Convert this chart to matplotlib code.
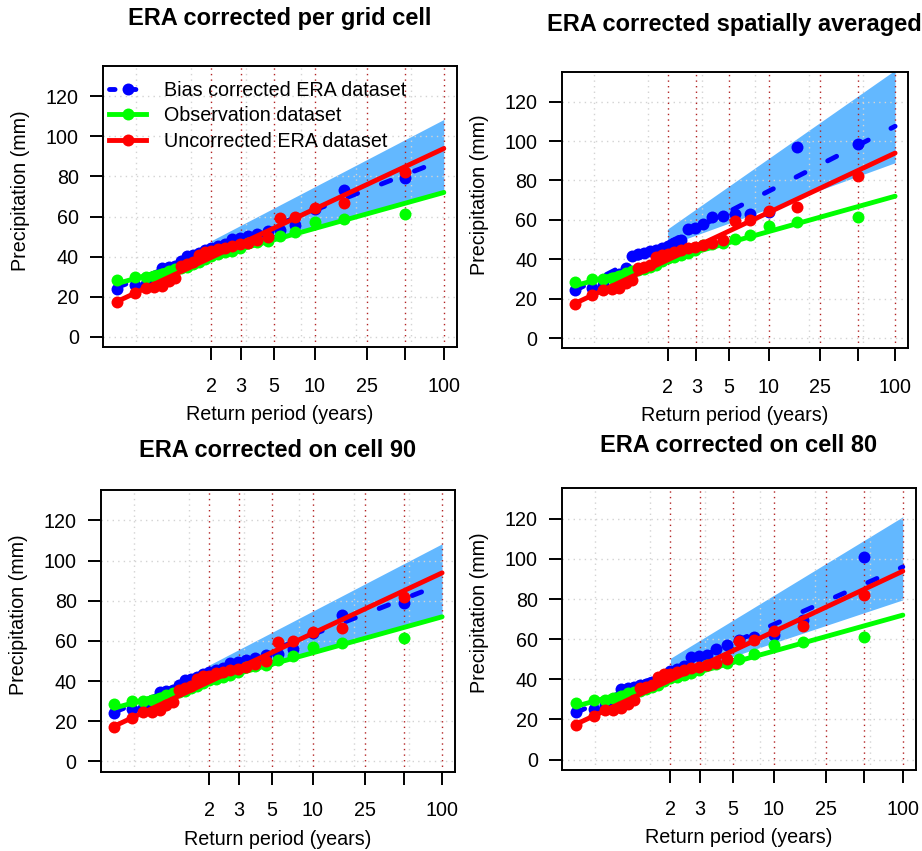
import numpy as np
import matplotlib
matplotlib.use('Agg')
import matplotlib.pyplot as plt
from matplotlib.lines import Line2D

plt.rcParams['font.family'] = ['Liberation Sans', 'DejaVu Sans']
plt.rcParams['lines.scale_dashes'] = False

# sorted annual maxima (mm), 25 years
obs = [28.3, 29.8, 29.8, 30.5, 31.5, 33.0, 33.8, 34.4, 35.0, 36.3, 37.3, 39.0, 40.5,
       41.2, 42.2, 43.0, 44.5, 47.0, 47.5, 48.0, 50.3, 52.5, 57.1, 58.7, 61.2]
era_raw = [17.3, 21.8, 24.5, 24.8, 25.5, 27.8, 29.5, 35.5, 36.3, 37.3, 41.0, 42.4, 42.6,
           43.8, 44.5, 45.5, 46.2, 47.0, 48.3, 50.0, 59.2, 59.8, 64.3, 66.5, 82.1]
bias_cell = [24.0, 26.0, 26.5, 29.0, 34.5, 35.0, 35.5, 38.0, 40.5, 41.0, 42.0, 43.5, 44.5,
             45.5, 46.5, 49.0, 49.5, 50.5, 51.5, 53.0, 53.5, 56.0, 64.0, 73.0, 79.0]
bias_avg = [24.5, 25.5, 27.0, 31.0, 32.5, 35.5, 41.5, 42.5, 43.0, 44.0, 44.5, 45.5, 46.5,
            48.0, 50.0, 55.5, 56.0, 58.0, 61.5, 62.0, 63.0, 63.0, 64.0, 97.0, 98.5]
bias_c80 = [23.5, 25.0, 27.0, 28.0, 35.0, 35.8, 36.3, 37.0, 37.5, 38.5, 39.0, 42.0, 44.0,
            45.0, 46.5, 51.0, 51.5, 52.0, 55.0, 57.0, 59.5, 61.0, 62.0, 69.5, 101.0]

# fitted Gumbel lines, value at first plotting position and at 100 years
obs_fit = [26.5, 72.0]
era_fit = [17.5, 93.9]
bias_cell_fit = [24.5, 88.4]
bias_avg_fit = [24.0, 107.5]
bias_c80_fit = [23.3, 96.0]

# confidence band of the corrected series, at 2 and 100 years
band_T = [2, 100]
band_cell_lo, band_cell_hi = [40.5, 72.6], [48.0, 108.4]
band_avg_lo, band_avg_hi = [47.0, 89.0], [55.4, 136.0]
band_c80_lo, band_c80_hi = [41.0, 79.6], [50.5, 121.0]

x_ticks = [2, 3, 5, 10, 25, 50, 100]
x_labels = ['2', '3', '5', '10', '25', '', '100']
y_ticks = [0, 20, 40, 60, 80, 100, 120]
grid_rv = [-1, 0, 1, 2, 3, 4]

labels = ['Bias corrected ERA dataset', 'Observation dataset', 'Uncorrected ERA dataset']

n = len(obs)
rank = np.arange(1, n + 1)
ret_period = 1.0 / (1.0 - (rank - 0.5) / n)  # Hazen plotting position
line_T = [ret_period[0], 100]


def gumbel_fwd(t):
    t = np.asarray(t, dtype=float)
    with np.errstate(all='ignore'):
        return -np.log(-np.log(1.0 - 1.0 / t))


def gumbel_inv(y):
    y = np.asarray(y, dtype=float)
    with np.errstate(all='ignore'):
        return 1.0 / (1.0 - np.exp(-np.exp(-y)))


W, H = 922, 851
BAND = '#63B8FF'
DASH = (7.2, 18.4)
LW = 3.5
MS = 8.6
FS = 14.2


def draw_panel(box, title, title_y, bias, bias_fit, lo, hi, legend=False):
    x0, y0, x1, y1 = box
    wpx, hpx = x1 - x0, y1 - y0
    ax = fig.add_axes([x0 / W, 1 - y1 / H, wpx / W, hpx / H])
    ax.set_xscale('function', functions=(gumbel_fwd, gumbel_inv))
    ax.set_xlim(gumbel_inv(-1.605), gumbel_inv(4.835))
    ax.set_ylim(-5.2, 135.2)

    ax.fill_between(band_T, lo, hi, color=BAND, lw=0, zorder=1)
    for yv in y_ticks:
        ax.axhline(yv, color='#D3D3D3', lw=1, ls=(0, (1, 3)), zorder=2)
    for g in grid_rv:
        ax.axvline(gumbel_inv(g), color='#D3D3D3', lw=1, ls=(0, (1, 3)), zorder=2)
    for t in x_ticks:
        ax.axvline(t, color='#B22222', lw=1, ls=(0, (1, 3)), zorder=2)

    ax.plot(ret_period, bias, 'o', color='blue', ms=MS, mew=0, zorder=3)
    ax.plot(line_T, bias_fit, color='blue', lw=LW, dashes=DASH,
            dash_capstyle='round', zorder=3)
    ax.plot(ret_period, obs, 'o', color='#00FF00', ms=MS, mew=0, zorder=4)
    ax.plot(line_T, obs_fit, color='#00FF00', lw=LW, solid_capstyle='round', zorder=4)
    ax.plot(ret_period, era_raw, 'o', color='red', ms=MS, mew=0, zorder=5)
    ax.plot(line_T, era_fit, color='red', lw=LW, solid_capstyle='round', zorder=5)

    ax.set_xticks(x_ticks)
    ax.set_xticklabels(x_labels)
    ax.xaxis.set_minor_locator(matplotlib.ticker.NullLocator())
    ax.set_yticks(y_ticks)
    ax.tick_params(axis='both', direction='out', length=9.1, width=1.4, labelsize=FS)
    ax.tick_params(axis='x', pad=12.2)
    ax.tick_params(axis='y', pad=8.4)
    for s in ax.spines.values():
        s.set_linewidth(1.4)

    ax.set_xlabel('Return period (years)', fontsize=FS)
    ax.xaxis.label.set_va('center')
    ax.xaxis.set_label_coords(0.5, -67.5 / hpx)
    ax.set_ylabel('Precipitation (mm)', fontsize=FS)
    ax.yaxis.label.set_va('center')
    ax.yaxis.set_label_coords(-82.5 / wpx, 0.557)

    fig.text((x0 + x1) / 2 / W, 1 - title_y / H, title, fontsize=17,
             fontweight='bold', ha='center', va='center')

    if legend:
        handles = [
            Line2D([], [], color='blue', lw=LW, dashes=(4, 11), dash_capstyle='round',
                   marker='o', ms=MS, mew=0),
            Line2D([], [], color='#00FF00', lw=LW, marker='o', ms=MS, mew=0),
            Line2D([], [], color='red', lw=LW, marker='o', ms=MS, mew=0),
        ]
        ax.legend(handles, labels, loc='upper left', bbox_to_anchor=(6 / wpx, 1 - 15 / hpx),
                  frameon=False, fontsize=FS, handlelength=1.86, handletextpad=0.9,
                  labelspacing=0.33, borderpad=0, borderaxespad=0)
    return ax


fig = plt.figure(figsize=(W / 100, H / 100), dpi=100)

draw_panel((103.3, 65.7, 456.7, 347.3), 'ERA corrected per grid cell', 18,
           bias_cell, bias_cell_fit, band_cell_lo, band_cell_hi, legend=True)
draw_panel((561.7, 71.7, 907.7, 348.3), 'ERA corrected spatially averaged', 25,
           bias_avg, bias_avg_fit, band_avg_lo, band_avg_hi)
draw_panel((101.0, 490.0, 455.0, 771.7), 'ERA corrected on cell 90', 450,
           bias_cell, bias_cell_fit, band_cell_lo, band_cell_hi)
draw_panel((562.3, 488.3, 915.7, 770.0), 'ERA corrected on cell 80', 446,
           bias_c80, bias_c80_fit, band_c80_lo, band_c80_hi)

fig.savefig('out.png', dpi=100)
